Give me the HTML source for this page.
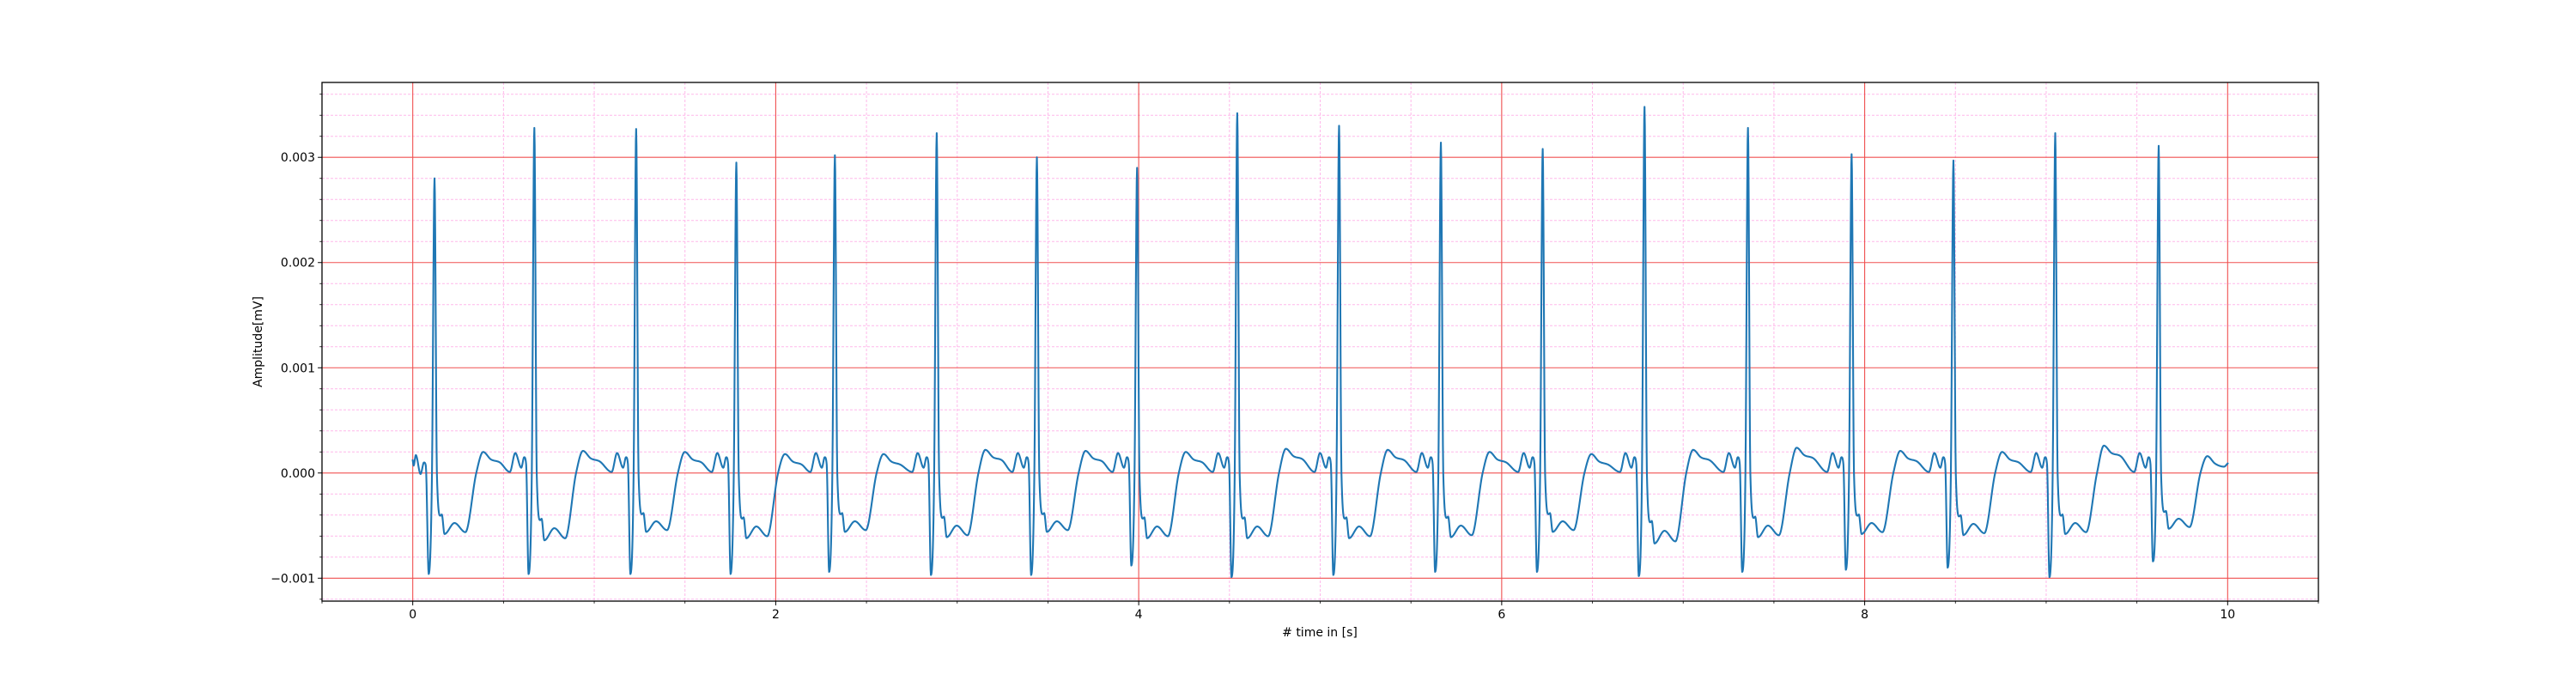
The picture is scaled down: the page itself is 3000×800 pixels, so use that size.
<!DOCTYPE html>
<html><head><meta charset="utf-8"><style>
html,body{margin:0;padding:0;background:#fff;}
svg{display:block;font-family:"DejaVu Sans","Liberation Sans",sans-serif;}
</style></head><body>
<svg id="chart" width="3000" height="800" viewBox="0 0 3000 800" xmlns="http://www.w3.org/2000/svg">
<rect x="0" y="0" width="3000" height="800" fill="#fff"/>
<g id="grid"></g>
<g id="series"></g>
<g id="axes"></g>
<text x="1537" y="741" text-anchor="middle" font-size="14" fill="#000"># time in [s]</text>
<text transform="translate(305,398) rotate(-90)" text-anchor="middle" font-size="14" fill="#000">Amplitude[mV]</text>
</svg>
<script>
// ---- data ----
const rTime = [0.12, 0.670, 1.231, 1.783, 2.326, 2.887, 3.439, 3.991, 4.543, 5.104, 5.665, 6.226, 6.787, 7.357, 7.928, 8.489, 9.050, 9.620];
const rAmp  = [0.00280, 0.00328, 0.00327, 0.00295, 0.00302, 0.00323, 0.00300, 0.00290, 0.00342, 0.00330, 0.00314, 0.00308, 0.00348, 0.00328, 0.00303, 0.00297, 0.00323, 0.00311];
const qAmp  = [-0.00096, -0.00096, -0.00096, -0.00096, -0.00094, -0.00097, -0.00097, -0.00088, -0.00099, -0.00097, -0.00094, -0.00094, -0.00098, -0.00094, -0.00092, -0.00090, -0.00099, -0.00084];
const sAmp  = [-0.00058, -0.00064, -0.00056, -0.00062, -0.00056, -0.00061, -0.00056, -0.00062, -0.00062, -0.00062, -0.00061, -0.00056, -0.00067, -0.00061, -0.00058, -0.00059, -0.00058, -0.00053];
const tAmp  = [0.00020, 0.00021, 0.00020, 0.00018, 0.00018, 0.00022, 0.00021, 0.00020, 0.00023, 0.00022, 0.00020, 0.00018, 0.00022, 0.00024, 0.00021, 0.00020, 0.00026, 0.00016];
const startPts = [[0,0.00012],[0.005,0.00007],[0.017,0.00017],[0.043,-0.00001],[0.062,0.0001],[0.072,0.00007]];
const endValue = 0.00009;
const xTicks = [0, 2, 4, 6, 8, 10];
const xTickLabels = ["0", "2", "4", "6", "8", "10"];
const yTicks = [-0.001, 0.000, 0.001, 0.002, 0.003];
const yTickLabels = ["\u22120.001", "0.000", "0.001", "0.002", "0.003"];

// ---- axes ----
const L=375, R=2700, T=96, B=700;
const xMin=-0.5, xMax=10.5, yMin=-0.001218, yMax=0.003712;
const xs = v => L + (v - xMin) / (xMax - xMin) * (R - L);
const ys = v => B - (v - yMin) / (yMax - yMin) * (B - T);
const NS="http://www.w3.org/2000/svg";
function mk(tag, attrs, parent){const e=document.createElementNS(NS,tag);for(const k in attrs)e.setAttribute(k,attrs[k]);parent.appendChild(e);return e;}
const grid=document.getElementById('grid'), axes=document.getElementById('axes'), series=document.getElementById('series');

// minor grid
for(let i=-1;i<=21;i++){const v=i*0.5;if(v<xMin||v>xMax||i%4===0)continue;const x=xs(v);
 const l=mk('line',{x1:x,x2:x,y1:T,y2:B,stroke:'#ffb8ea','stroke-width':1,'stroke-dasharray':'3,2'},grid);
 
 const t=mk('line',{x1:x,x2:x,y1:B,y2:B+2.8,stroke:'#000','stroke-width':0.8},axes);
 }
for(let i=-6;i<=19;i++){const v=i*0.0002;if(v<yMin||v>yMax||i%5===0)continue;const y=ys(v);
 const l=mk('line',{x1:L,x2:R,y1:y,y2:y,stroke:'#ffb8ea','stroke-width':1,'stroke-dasharray':'3,2'},grid);
 
 const t=mk('line',{x1:L-2.8,x2:L,y1:y,y2:y,stroke:'#000','stroke-width':0.8},axes);
 }
// major grid + ticks
xTicks.forEach((v,i)=>{const x=xs(v);
 const l=mk('line',{x1:x,x2:x,y1:T,y2:B,stroke:'#f05050','stroke-width':1.1},grid);
 
 const t=mk('line',{x1:x,x2:x,y1:B,y2:B+4.9,stroke:'#000','stroke-width':1},axes);
 
 const tx=mk('text',{x:x,y:B+20,'text-anchor':'middle','font-size':14,fill:'#000'},axes);tx.textContent=xTickLabels[i];
 });
yTicks.forEach((v,i)=>{const y=ys(v);
 const l=mk('line',{x1:L,x2:R,y1:y,y2:y,stroke:'#f05050','stroke-width':1.1},grid);
 
 const t=mk('line',{x1:L-4.9,x2:L,y1:y,y2:y,stroke:'#000','stroke-width':1},axes);
 
 const tx=mk('text',{x:L-8,y:y+5,'text-anchor':'end','font-size':14,fill:'#000'},axes);tx.textContent=yTickLabels[i];
 });
const frame=mk('rect',{x:L,y:T,width:R-L,height:B-T,fill:'none',stroke:'#000','stroke-width':1.3},axes);


// ---- build keypoints from beat arrays ----
let pts = startPts.map(p=>p.slice());
for(let i=0;i<rTime.length;i++){
 const r=rTime[i], s=sAmp[i], tp=tAmp[i];
 if(i>0){ // pre-wiggles relative to this R
  pts.push([r-0.135,0.00001],[r-0.105,0.00019],[r-0.072,0.00005],[r-0.056,0.00015],[r-0.045,0.00008]);
 }
 pts.push([r-0.032,qAmp[i]],[r-0.014,0.0],[r,rAmp[i]],[r+0.013,0.0]);
 pts.push([r+0.032,s*0.7],[r+0.040,s*0.68],[r+0.055,s],[r+0.11,s*0.82],[r+0.17,s*0.97],[r+0.23,0.0],[r+0.268,tp],[r+0.31,tp-0.00007],[r+0.36,tp-0.0001]);
}
pts.push([10,endValue]);
pts.sort((a,b)=>a[0]-b[0]);
// monotone cubic interpolation
const n=pts.length, X=pts.map(p=>p[0]), Y=pts.map(p=>p[1]);
const d=[],m=[];
for(let i=0;i<n-1;i++)d.push((Y[i+1]-Y[i])/(X[i+1]-X[i]));
m[0]=d[0];m[n-1]=d[n-2];
for(let i=1;i<n-1;i++){m[i]=(d[i-1]*d[i]<=0)?0:(d[i-1]+d[i])/2;}
for(let i=0;i<n-1;i++){if(d[i]===0){m[i]=0;m[i+1]=0;continue;}const a=m[i]/d[i],b=m[i+1]/d[i],s=a*a+b*b;if(s>9){const t=3/Math.sqrt(s);m[i]=t*a*d[i];m[i+1]=t*b*d[i];}}
let path='';
for(let i=0;i<n-1;i++){const h=X[i+1]-X[i];const steps=Math.max(2,Math.ceil(h/0.002));
 for(let k=(i===0?0:1);k<=steps;k++){const t=k/steps,t2=t*t,t3=t2*t;
  const v=(2*t3-3*t2+1)*Y[i]+(t3-2*t2+t)*h*m[i]+(-2*t3+3*t2)*Y[i+1]+(t3-t2)*h*m[i+1];
  const xv=X[i]+t*h;path+=(path?'L':'M')+xs(xv).toFixed(2)+','+ys(v).toFixed(2);}}
const line=mk('path',{d:path,fill:'none',stroke:'#1f77b4','stroke-width':2.1,'stroke-linejoin':'round','stroke-linecap':'square'},series);


</script>
</body></html>
